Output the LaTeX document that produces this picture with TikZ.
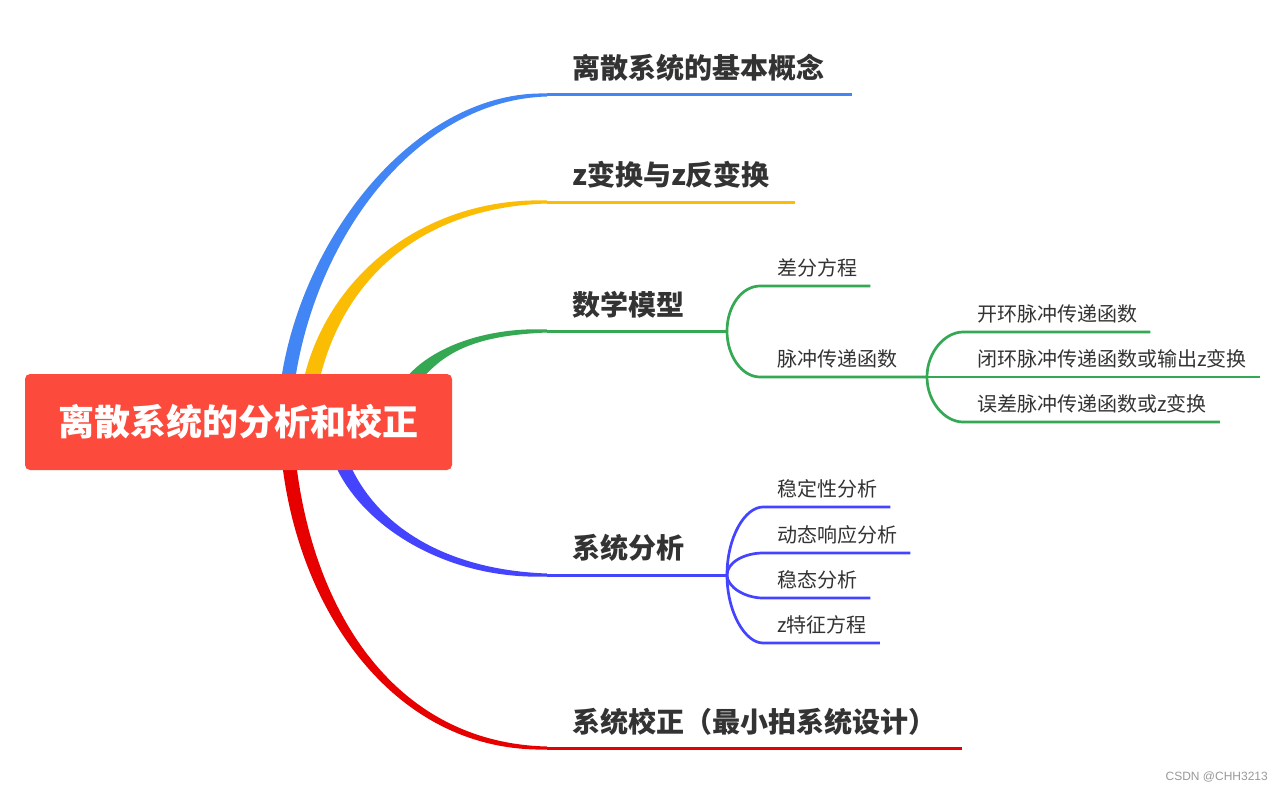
\documentclass[tikz,border=0pt]{standalone}
\usepackage{fontspec}
\setmainfont{Liberation Sans}
\newfontfamily\cjk{Noto Sans CJK SC}
\usetikzlibrary{calc,backgrounds}

\definecolor{rootred}{HTML}{FC4A3D}
\definecolor{mblue}{HTML}{4285F4}
\definecolor{myellow}{HTML}{FBBC04}
\definecolor{mgreen}{HTML}{34A853}
\definecolor{mviolet}{HTML}{4444FF}
\definecolor{mred}{HTML}{E60000}
\definecolor{ink}{HTML}{333333}

% tapered main branch: colour, start, ctrl 1, ctrl 2, end,
% half width at start, half width at end, half width at ctrl 2
\newcommand\limb[8]{%
  \fill[#1] ($(#2)+(#6)$) .. controls ($(#3)+(#6)$) and ($(#4)+(#8)$) .. ($(#5)+(#7)$)
    -- ($(#5)-(#7)$) .. controls ($(#4)-(#8)$) and ($(#3)-(#6)$) .. ($(#2)-(#6)$) -- cycle;}

\begin{document}
\begin{tikzpicture}[x=1pt, y=-1pt,
  topic/.style={font=\cjk\bfseries\fontsize{28}{32}\selectfont, text=ink, anchor=west, inner sep=0},
  leaf/.style={font=\cjk\fontsize{20}{24}\selectfont, text=ink, anchor=west, inner sep=0},
  stem/.style={line width=3},
  twig/.style={line width=2.7}]

% Root
\node[fill=rootred, rounded corners=5, minimum width=427, minimum height=96, inner sep=0,
      text=white, font=\cjk\bfseries\fontsize{36}{44}\selectfont] (root) at (238.5,422) {离散系统的分析和校正};

% First level topics
\node[topic] (basic)  at (572,68)  {离散系统的基本概念};
\node[topic] (ztrans) at (572,175) {z变换与z反变换};
\node[topic] (model)  at (572,305) {数学模型};
\node[topic] (anal)   at (572,548) {系统分析};
\node[topic] (corr)   at (572,722) {系统校正（最小拍系统设计）};

% Branch roots on the box edge and topic underlines
\coordinate (s1) at (289,374);   \coordinate (basic-l)  at (547,95);  \coordinate (basic-r)  at (852,95);
\coordinate (s2) at (313,374);   \coordinate (ztrans-l) at (547,202); \coordinate (ztrans-r) at (795,202);
\coordinate (s3) at (418,374);   \coordinate (model-l)  at (547,331); \coordinate (model-r)  at (727,331);
\coordinate (s4) at (345,470);   \coordinate (anal-l)   at (547,575); \coordinate (anal-r)   at (727,575);
\coordinate (s5) at (290,470);   \coordinate (corr-l)   at (547,748); \coordinate (corr-r)   at (962,748);

\begin{scope}[on background layer]
% canvas, 1283 x 792 px
\path[fill=white] (0,0) rectangle (1283,792);
\limb{mblue}{s1}{313,230}{420,95}{basic-l}{-7,0}{0,-1.5}{0,-5}
\limb{myellow}{s2}{340,270}{430,202}{ztrans-l}{-8,0}{0,-1.5}{0,-5}
\limb{mgreen}{s3}{445,345}{490,331}{model-l}{-8.5,0}{0,-1.5}{0,-4}
\limb{mviolet}{s4}{375,530}{450,575}{anal-l}{-7.5,0}{0,1.5}{0,5}
\limb{mred}{s5}{310,620}{400,748}{corr-l}{-7,0}{0,1.5}{0,5}
\end{scope}

\draw[stem, mblue]   (basic-l)  -- (basic-r);
\draw[stem, myellow] (ztrans-l) -- (ztrans-r);
\draw[stem, mgreen]  (model-l)  -- (model-r);
\draw[stem, mviolet] (anal-l)   -- (anal-r);
\draw[stem, mred]    (corr-l)   -- (corr-r);

% Mathematical model
\node[leaf] (diff)   at (777,268) {差分方程};
\node[leaf] (pulse)  at (777,359) {脉冲传递函数};
\node[leaf] (open)   at (977,314) {开环脉冲传递函数};
\node[leaf] (closed) at (977,359) {闭环脉冲传递函数或输出z变换};
\node[leaf] (err)    at (977,404) {误差脉冲传递函数或z变换};
\coordinate (pulse-r) at (927,377);

\draw[twig, mgreen] (model-r) .. controls +(0,-25) and +(-18,0) .. ([xshift=-17pt,yshift=-18pt]diff.west)
  -- ([xshift=13pt,yshift=-18pt]diff.east);
\draw[twig, mgreen] (model-r) .. controls +(0,25) and +(-18,0) .. ([xshift=-17pt,yshift=-18pt]pulse.west)
  -- (pulse-r);
\draw[twig, mgreen] (pulse-r) .. controls +(0,-25) and +(-18,0) .. ([xshift=-14pt,yshift=-18pt]open.west)
  -- ([xshift=13pt,yshift=-18pt]open.east);
\draw[twig, mgreen] (pulse-r) -- ([xshift=13pt,yshift=-18pt]closed.east);
\draw[twig, mgreen] (pulse-r) .. controls +(0,25) and +(-18,0) .. ([xshift=-14pt,yshift=-18pt]err.west)
  -- ([xshift=13pt,yshift=-18pt]err.east);

% System analysis
\node[leaf] (stab)  at (777,489) {稳定性分析};
\node[leaf] (dyn)   at (777,535) {动态响应分析};
\node[leaf] (ss)    at (777,580) {稳态分析};
\node[leaf] (zchar) at (777,625) {z特征方程};

\draw[twig, mviolet] (anal-r) .. controls +(0,-38) and +(-18,0) .. ([xshift=-14pt,yshift=-18pt]stab.west)
  -- ([xshift=13pt,yshift=-18pt]stab.east);
\draw[twig, mviolet] (anal-r) .. controls +(0,-13) and +(-18,0) .. ([xshift=-14pt,yshift=-18pt]dyn.west)
  -- ([xshift=13pt,yshift=-18pt]dyn.east);
\draw[twig, mviolet] (anal-r) .. controls +(0,12) and +(-18,0) .. ([xshift=-14pt,yshift=-18pt]ss.west)
  -- ([xshift=13pt,yshift=-18pt]ss.east);
\draw[twig, mviolet] (anal-r) .. controls +(0,37) and +(-18,0) .. ([xshift=-14pt,yshift=-18pt]zchar.west)
  -- ([xshift=13pt,yshift=-18pt]zchar.east);

% watermark
\node[font=\fontsize{12}{14}\selectfont, text=black!40, anchor=east, inner sep=0] (mark) at (1268,777) {CSDN @CHH3213};
\end{tikzpicture}
\end{document}
